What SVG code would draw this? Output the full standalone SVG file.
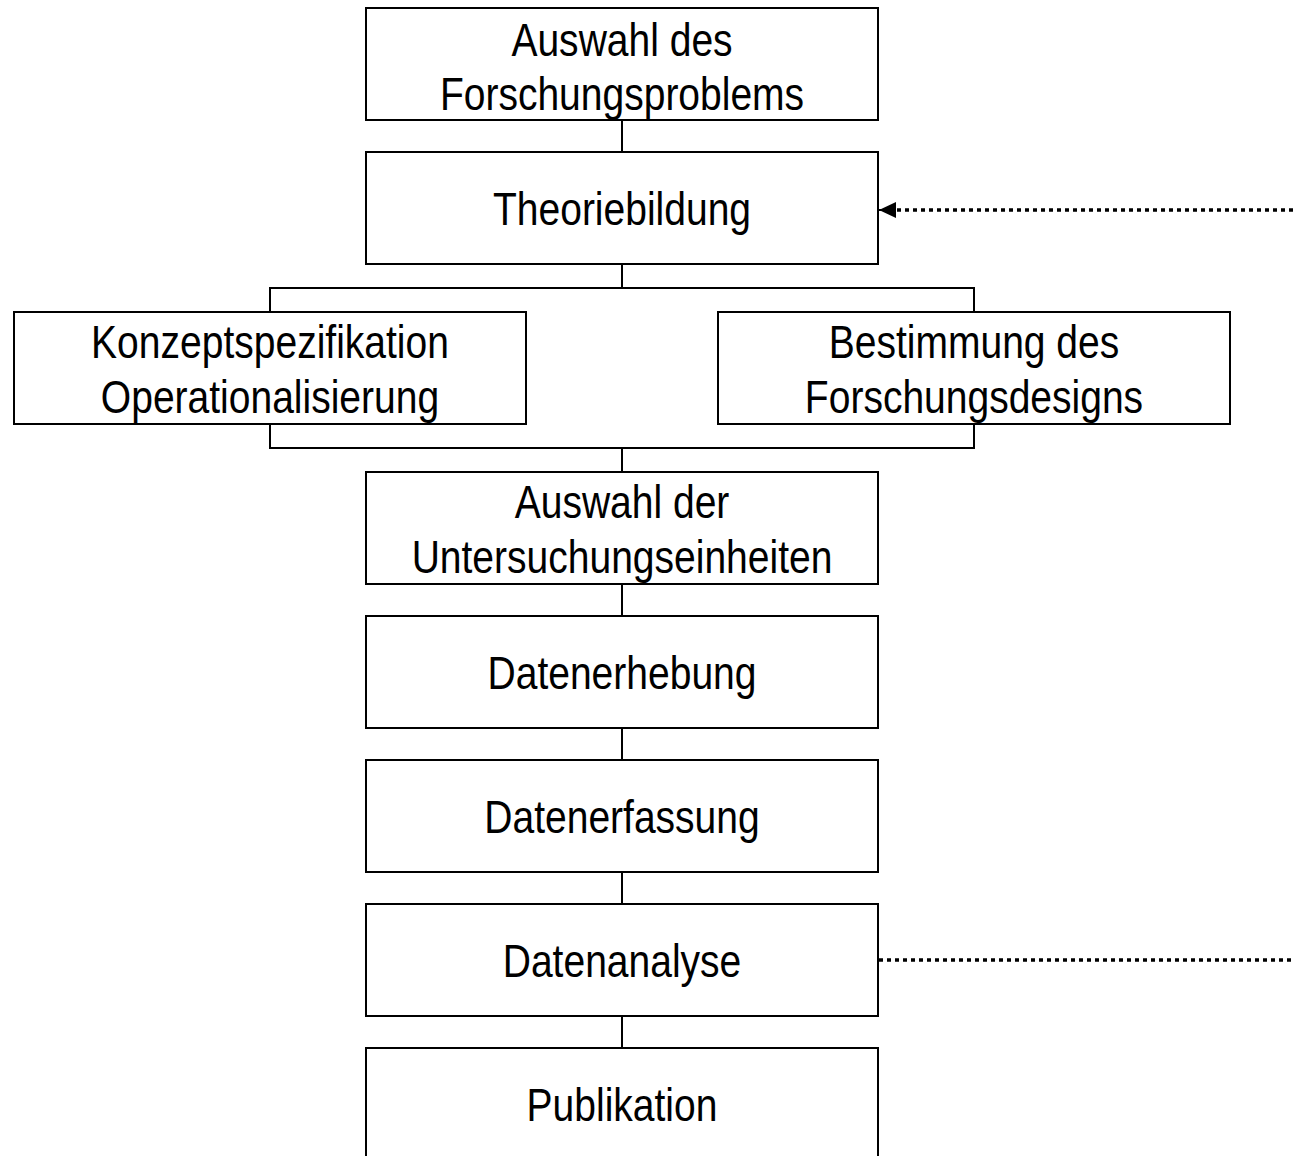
<svg xmlns="http://www.w3.org/2000/svg" width="1293" height="1156" viewBox="0 0 1293 1156">
  <style>
    .box { fill: #ffffff; stroke: #000000; stroke-width: 2; }
    .lbl { font-family: "Liberation Sans", Arial, sans-serif; font-size: 47px; fill: #000000; text-anchor: middle; }
    .link { fill: none; stroke: #000000; stroke-width: 2; }
    .dot { fill: none; stroke: #000000; stroke-width: 3.5; stroke-dasharray: 4 4; }
  </style>
  <defs>
    <marker id="head" markerUnits="userSpaceOnUse" markerWidth="18" markerHeight="16" refX="17" refY="8" orient="auto">
      <path d="M0,0 L17,8 L0,16 Z" fill="#000000"/>
    </marker>
  </defs>
  <rect width="1293" height="1156" fill="#ffffff"/>

  <!-- connectors -->
  <g id="connectors">
    <line class="link" x1="622" y1="120" x2="622" y2="152"/>
    <line class="link" x1="622" y1="264" x2="622" y2="288"/>
    <polyline class="link" points="270,312 270,288 974,288 974,312"/>
    <polyline class="link" points="270,424 270,448 974,448 974,424"/>
    <line class="link" x1="622" y1="448" x2="622" y2="472"/>
    <line class="link" x1="622" y1="584" x2="622" y2="616"/>
    <line class="link" x1="622" y1="728" x2="622" y2="760"/>
    <line class="link" x1="622" y1="872" x2="622" y2="904"/>
    <line class="link" x1="622" y1="1016" x2="622" y2="1048"/>
    <line class="dot" x1="1293" y1="210" x2="893" y2="210"/>
    <line class="link" x1="895" y1="210" x2="879" y2="210" marker-end="url(#head)" stroke-width="0.01"/>
    <line class="dot" x1="879" y1="960" x2="1293" y2="960"/>
  </g>

  <!-- labels are set in a condensed cut: horizontal scale 0.83 -->
  <g id="n-problem">
    <rect class="box" x="366" y="8" width="512" height="112"/>
    <text class="lbl" transform="translate(622 56) scale(0.83 1)">Auswahl des</text>
    <text class="lbl" transform="translate(622 110) scale(0.83 1)">Forschungsproblems</text>
  </g>
  <g id="n-theorie">
    <rect class="box" x="366" y="152" width="512" height="112"/>
    <text class="lbl" transform="translate(622 225) scale(0.83 1)">Theoriebildung</text>
  </g>
  <g id="n-konzept">
    <rect class="box" x="14" y="312" width="512" height="112"/>
    <text class="lbl" transform="translate(270 358) scale(0.83 1)">Konzeptspezifikation</text>
    <text class="lbl" transform="translate(270 413) scale(0.83 1)">Operationalisierung</text>
  </g>
  <g id="n-design">
    <rect class="box" x="718" y="312" width="512" height="112"/>
    <text class="lbl" transform="translate(974 358) scale(0.83 1)">Bestimmung des</text>
    <text class="lbl" transform="translate(974 413) scale(0.83 1)">Forschungsdesigns</text>
  </g>
  <g id="n-einheiten">
    <rect class="box" x="366" y="472" width="512" height="112"/>
    <text class="lbl" transform="translate(622 518) scale(0.83 1)">Auswahl der</text>
    <text class="lbl" transform="translate(622 573) scale(0.83 1)">Untersuchungseinheiten</text>
  </g>
  <g id="n-erhebung">
    <rect class="box" x="366" y="616" width="512" height="112"/>
    <text class="lbl" transform="translate(622 689) scale(0.83 1)">Datenerhebung</text>
  </g>
  <g id="n-erfassung">
    <rect class="box" x="366" y="760" width="512" height="112"/>
    <text class="lbl" transform="translate(622 833) scale(0.83 1)">Datenerfassung</text>
  </g>
  <g id="n-analyse">
    <rect class="box" x="366" y="904" width="512" height="112"/>
    <text class="lbl" transform="translate(622 977) scale(0.83 1)">Datenanalyse</text>
  </g>
  <g id="n-publikation">
    <rect class="box" x="366" y="1048" width="512" height="112"/>
    <text class="lbl" transform="translate(622 1121) scale(0.83 1)">Publikation</text>
  </g>
</svg>
